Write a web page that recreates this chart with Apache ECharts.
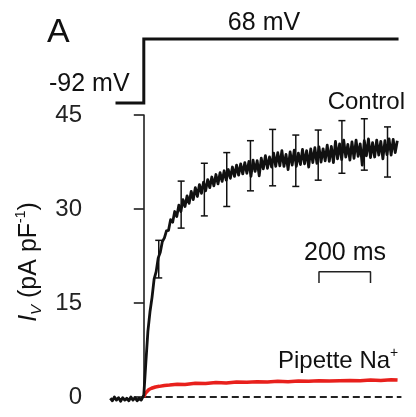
<!DOCTYPE html>
<html>
<head>
<meta charset="utf-8">
<script src="https://cdn.jsdelivr.net/npm/echarts@6/dist/echarts.min.js"></script>
<style>html,body{margin:0;padding:0;background:#fff}#c{width:416px;height:417px}</style>
</head>
<body>
<div id="c"></div>
<script>
// ---- data (time in ms from voltage step, current in pA/pF) ----
const yTicks = [0, 15, 30, 45];
const baselineT = [-130, -122, -114, -106, -98, -90, -82, -74, -66, -58, -50, -42, -34, -26, -18, -10, -4];
const baselineV = [-0.2, -0.6, 0.0, -0.5, -0.1, -0.7, -0.1, -0.5, -0.2, -0.6, 0.0, -0.5, -0.1, -0.6, -0.2, -0.5, -0.8];
const controlStepMs = 8;
const controlV = [
  0.3, 5.5, 10.5, 13.6, 15.9, 18.8, 20.0, 22.2, 23.1, 24.8, 25.4, 26.5, 26.6,
  28.3, 27.9, 29.6, 28.8, 30.6, 29.6, 31.5, 30.4, 32.1, 30.9, 32.8, 31.5, 33.4, 32.0, 33.9, 32.5,
  34.3, 32.9, 34.7, 33.4, 35.1, 33.7, 35.5, 34.0, 35.8, 34.4, 36.1, 34.6, 36.3, 34.9, 36.7, 35.2,
  37.0, 35.4, 37.2, 35.6, 37.4, 35.7, 37.6, 35.2, 37.8, 36.0, 37.7, 35.3, 38.1, 36.4, 38.5, 36.5,
  38.3, 36.7, 38.9, 36.8, 39.0, 36.9, 39.3, 36.8, 38.7, 36.3, 39.1, 37.0, 39.4, 36.8, 38.9, 37.1,
  39.5, 37.2, 39.3, 36.7, 39.6, 37.4, 39.8, 37.3, 39.9, 37.5, 39.6, 37.7, 40.2, 37.6, 40.0, 37.4,
  40.8, 38.0, 40.4, 37.9, 41.0, 38.3, 40.3, 37.8, 40.7, 38.1, 41.0, 38.4, 40.4, 37.0, 40.9, 38.5,
  41.2, 38.2, 40.6, 38.3, 41.0, 38.6, 40.8, 38.0, 40.9, 38.7, 41.2, 38.6, 41.1, 39.0, 40.9
];
const naT = [0, 6, 12, 20, 30, 45, 60, 80, 100, 130, 160, 200, 240, 280, 320, 360, 400, 440, 480, 520, 560, 600, 640, 680, 720, 760, 800, 840, 880, 920, 960, 985];
const naV = [0.0, 0.6, 0.9, 1.2, 1.4, 1.6, 1.7, 1.85, 1.9, 2.05, 2.0, 2.2, 2.15, 2.3, 2.25, 2.4, 2.35, 2.45, 2.4, 2.5, 2.45, 2.55, 2.5, 2.6, 2.55, 2.6, 2.65, 2.6, 2.7, 2.65, 2.75, 2.7];
const errT = [58, 145, 235, 322, 414, 500, 590, 677, 769, 856, 946];
const errMean = [22.0, 30.7, 33.1, 34.7, 36.9, 38.2, 37.7, 38.6, 39.9, 40.3, 39.1];
const errHalf = [3.0, 3.75, 4.2, 4.3, 4.0, 4.5, 4.1, 4.0, 4.2, 4.1, 4.0];
const protocolT = [-104, 0, 0, 983];
const protocolMv = [-92, -92, 68, 68];
const scaleBarMs = [680, 880];

// ---- build ----
const controlData = baselineT.map((t, i) => [t, baselineV[i]])
  .concat(controlV.map((v, i) => [i * controlStepMs, v]));
const naData = naT.map((t, i) => [t, naV[i]]);
const errData = errT.map((t, i) => [t, errMean[i], errHalf[i]]);
const protocolData = protocolT.map((t, i) => [t, protocolMv[i]]);
const sbY = 20, sbLeg = 18.2;
const scaleData = [[scaleBarMs[0], sbLeg], [scaleBarMs[0], sbY], [scaleBarMs[1], sbY], [scaleBarMs[1], sbLeg]];

const FONT = 'Liberation Sans, Arial, sans-serif';
const INK = '#111';
const chart = echarts.init(document.getElementById('c'));
chart.setOption({
  animation: false,
  backgroundColor: '#fff',
  grid: [
    { left: 100, top: 115, width: 304, height: 282 },
    { left: 100, top: 34.2, width: 304, height: 80 }
  ],
  xAxis: [
    { type: 'value', gridIndex: 0, min: -170, max: 1010, show: false },
    { type: 'value', gridIndex: 1, min: -170, max: 1010, show: false }
  ],
  yAxis: [
    {
      type: 'value', gridIndex: 0, min: 0, max: 45, interval: 15,
      splitLine: { show: false },
      axisLine: { show: true, lineStyle: { color: INK, width: 1.5 } },
      axisTick: { show: true, length: 10, lineStyle: { color: INK, width: 1.5 } },
      axisLabel: { margin: 18, color: '#222', fontSize: 24, fontFamily: FONT,
        formatter: v => (yTicks.indexOf(v) >= 0 ? String(v) : '') }
    },
    { type: 'value', gridIndex: 1, min: -120, max: 80, show: false }
  ],
  series: [
    {
      type: 'line', xAxisIndex: 1, yAxisIndex: 1, data: protocolData, symbol: 'none',
      lineStyle: { color: INK, width: 3, join: 'miter', cap: 'square' }
    },
    {
      type: 'line', data: [[0, 0], [1000, 0]], symbol: 'none', clip: false,
      lineStyle: { color: '#222', width: 2, type: [7, 4] }
    },
    {
      type: 'line', data: naData, symbol: 'none', clip: false,
      lineStyle: { color: '#e8201c', width: 3.5 }
    },
    {
      type: 'line', data: controlData, symbol: 'none', clip: false,
      lineStyle: { color: '#111', width: 2.8, join: 'round' }
    },
    {
      type: 'custom', data: errData, clip: false,
      renderItem: function (params, api) {
        const x = api.value(0), m = api.value(1), h = api.value(2);
        const top = api.coord([x, m + h]);
        const bot = api.coord([x, m - h]);
        const w = 3.5;
        const st = { stroke: INK, lineWidth: 1.5 };
        return {
          type: 'group',
          children: [
            { type: 'line', shape: { x1: top[0], y1: top[1], x2: bot[0], y2: bot[1] }, style: st },
            { type: 'line', shape: { x1: top[0] - w, y1: top[1], x2: top[0] + w, y2: top[1] }, style: st },
            { type: 'line', shape: { x1: bot[0] - w, y1: bot[1], x2: bot[0] + w, y2: bot[1] }, style: st }
          ]
        };
      }
    },
    {
      type: 'line', data: scaleData, symbol: 'none', clip: false,
      lineStyle: { color: '#222', width: 1.5 }
    }
  ],
  graphic: [
    { type: 'text', left: 47, top: 16, style: { text: 'A', font: '34px ' + FONT, fill: INK } },
    { type: 'text', x: 264, y: 23, style: { text: '68 mV', font: '25px ' + FONT, fill: INK, align: 'center', verticalAlign: 'middle' } },
    { type: 'text', x: 49, y: 84, style: { text: '-92 mV', font: '25px ' + FONT, fill: INK, align: 'left', verticalAlign: 'middle' } },
    { type: 'text', x: 405, y: 102, style: { text: 'Control', font: '24px ' + FONT, fill: INK, align: 'right', verticalAlign: 'middle' } },
    { type: 'text', x: 345, y: 253, style: { text: '200 ms', font: '25px ' + FONT, fill: INK, align: 'center', verticalAlign: 'middle' } },
    {
      type: 'text', x: 278, y: 361,
      style: {
        text: '{n|Pipette Na}{s|+}', align: 'left', verticalAlign: 'middle', fill: INK,
        rich: {
          n: { fontSize: 24, fontFamily: FONT, lineHeight: 30, fill: INK },
          s: { fontSize: 14, fontFamily: FONT, lineHeight: 14, verticalAlign: 'top', fill: INK }
        }
      }
    },
    {
      type: 'text', x: 29, y: 262, rotation: Math.PI / 2,
      style: {
        text: '{i|I}{b|V}{n| (pA pF}{p|-1}{n|)}', align: 'center', verticalAlign: 'middle', fill: INK,
        rich: {
          i: { fontSize: 25, fontStyle: 'italic', fontFamily: FONT, lineHeight: 30, fill: INK },
          b: { fontSize: 15, fontStyle: 'italic', fontFamily: FONT, lineHeight: 15, verticalAlign: 'bottom', fill: INK },
          n: { fontSize: 25, fontFamily: FONT, lineHeight: 30, fill: INK },
          p: { fontSize: 14, fontFamily: FONT, lineHeight: 14, verticalAlign: 'top', fill: INK }
        }
      }
    }
  ]
});
</script>
</body>
</html>
